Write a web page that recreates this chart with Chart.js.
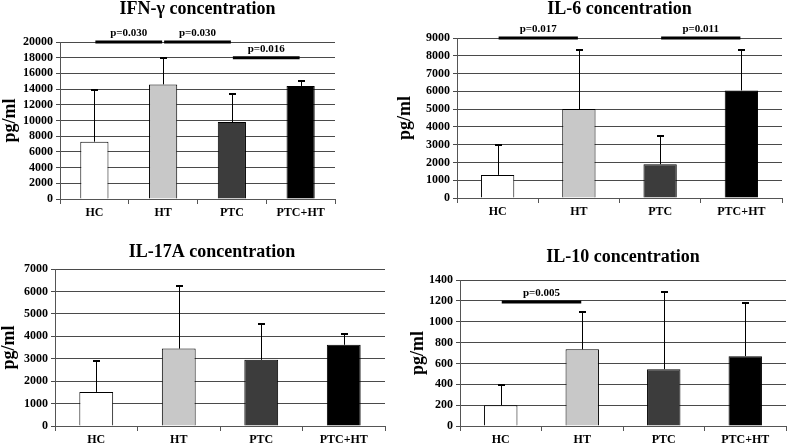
<!DOCTYPE html>
<html>
<head>
<meta charset="utf-8">
<script src="https://cdn.jsdelivr.net/npm/chart.js@4.4.1/dist/chart.umd.min.js"></script>
<style>
  body { margin: 0; background: #fff; }
  #wrap { position: relative; width: 787px; height: 447px; overflow: hidden; }
  canvas { position: absolute; }
</style>
</head>
<body>
<div id="wrap">
  <canvas id="c1" width="390" height="225" style="left:0;top:0"></canvas>
  <canvas id="c2" width="397" height="225" style="left:390px;top:0"></canvas>
  <canvas id="c3" width="390" height="222" style="left:0;top:225px"></canvas>
  <canvas id="c4" width="397" height="222" style="left:390px;top:225px"></canvas>
</div>
<script>
// groups
const categories = ['HC', 'HT', 'PTC', 'PTC+HT'];
const barColors = ['#ffffff', '#c8c8c8', '#3c3c3c', '#000000'];

// IFN-gamma
const ifnMean = [7300, 14600, 9800, 14400];
const ifnSD = [6600, 3400, 3600, 600];
const ifnSig = [[0, 1, 20000, 'p=0.030'], [1, 2, 20000, 'p=0.030'], [2, 3, 18000, 'p=0.016']];

// IL-6
const il6Mean = [1300, 5000, 1900, 6050];
const il6SD = [1700, 3300, 1600, 2250];
const il6Sig = [[0, 1, 9000, 'p=0.017'], [2, 3, 9000, 'p=0.011']];

// IL-17A
const il17Mean = [1520, 3450, 2950, 3620];
const il17SD = [1360, 2780, 1620, 460];
const il17Sig = [];

// IL-10
const il10Mean = [200, 735, 545, 670];
const il10SD = [195, 360, 740, 510];
const il10Sig = [[0, 1, 1190, 'p=0.005']];

const serif = '"Liberation Serif", "Times New Roman", serif';

// error bars, significance brackets and the title
const annot = {
  id: 'annot',
  afterDatasetsDraw(chart, args, o) {
    const ctx = chart.ctx;
    const y = chart.scales.y;
    const meta = chart.getDatasetMeta(0);
    const area = chart.chartArea;
    ctx.save();
    ctx.strokeStyle = '#000';
    o.sd.forEach((s, i) => {
      const bar = meta.data[i];
      const cx = Math.round(bar.x) + 0.5;
      const top = Math.round(y.getPixelForValue(o.mean[i] + s));
      ctx.lineWidth = 1;
      ctx.beginPath();
      ctx.moveTo(cx, bar.y);
      ctx.lineTo(cx, top);
      ctx.stroke();
      ctx.lineWidth = 2;
      ctx.beginPath();
      ctx.moveTo(cx - 3.5, top);
      ctx.lineTo(cx + 3.5, top);
      ctx.stroke();
    });
    o.sig.forEach(([a, b, v, label]) => {
      const xa = meta.data[a].x + 1;
      const xb = meta.data[b].x - 1;
      const yy = y.getPixelForValue(v);
      ctx.lineWidth = 3;
      ctx.beginPath();
      ctx.moveTo(xa, yy);
      ctx.lineTo(xb, yy);
      ctx.stroke();
      ctx.fillStyle = '#000';
      ctx.font = 'bold 11px ' + serif;
      ctx.textAlign = 'center';
      ctx.textBaseline = 'bottom';
      ctx.fillText(label, (xa + xb) / 2, yy - 3);
    });
    ctx.fillStyle = '#000';
    ctx.font = 'bold 18px ' + serif;
    ctx.textAlign = 'center';
    ctx.textBaseline = 'middle';
    ctx.fillText(o.title, (area.left + area.right) / 2 + o.titleShift, o.titleY);
    ctx.restore();
  }
};

function makeChart(id, p) {
  return new Chart(document.getElementById(id), {
    type: 'bar',
    data: {
      labels: categories,
      datasets: [{
        data: p.mean,
        backgroundColor: barColors,
        borderColor: '#000',
        borderWidth: 1,
        barPercentage: 0.41,
        categoryPercentage: 1
      }]
    },
    options: {
      responsive: false,
      animation: false,
      layout: { padding: p.pad },
      plugins: {
        legend: { display: false },
        tooltip: { enabled: false },
        annot: { mean: p.mean, sd: p.sd, sig: p.sig, title: p.title, titleY: p.titleY, titleShift: p.titleShift || 0 }
      },
      scales: {
        x: {
          grid: { display: true, drawOnChartArea: false, drawTicks: true, tickLength: 5, color: '#555', offset: true },
          border: { color: '#555' },
          ticks: { color: '#000', padding: 2, font: { family: serif, size: 12, weight: 'bold' } },
          afterFit: s => { s.height = p.xh; }
        },
        y: {
          min: 0,
          max: p.max,
          grid: { color: '#4a4a4a', tickLength: 4 },
          border: { color: '#555' },
          ticks: {
            stepSize: p.step, autoSkip: false, color: '#000', padding: 3,
            font: { family: serif, size: 12, weight: 'bold' },
            callback: v => String(v)
          },
          title: { display: true, text: 'pg/ml', color: '#000', padding: 0, font: { family: serif, size: 18, weight: 'bold', lineHeight: 1 } },
          afterFit: s => { s.width = p.yw; }
        }
      }
    },
    plugins: [annot]
  });
}

makeChart('c1', { mean: ifnMean, sd: ifnSD, sig: ifnSig, title: 'IFN-\u03b3 concentration', titleY: 9,
  max: 20000, step: 2000, pad: { left: 1, right: 55, top: 42, bottom: 0 }, yw: 59, xh: 26 });
makeChart('c2', { mean: il6Mean, sd: il6SD, sig: il6Sig, title: 'IL-6 concentration', titleY: 9,
  max: 9000, step: 1000, pad: { left: 6, right: 5, top: 38, bottom: 0 }, yw: 61, xh: 27 });
makeChart('c3', { mean: il17Mean, sd: il17SD, sig: il17Sig, title: 'IL-17A concentration', titleY: 27, titleShift: -8,
  max: 7000, step: 1000, pad: { left: 0, right: 5, top: 44, bottom: 0 }, yw: 55, xh: 21 });
makeChart('c4', { mean: il10Mean, sd: il10SD, sig: il10Sig, title: 'IL-10 concentration', titleY: 32,
  max: 1400, step: 200, pad: { left: 19, right: 1, top: 55, bottom: 0 }, yw: 51, xh: 21 });
</script>
</body>
</html>
